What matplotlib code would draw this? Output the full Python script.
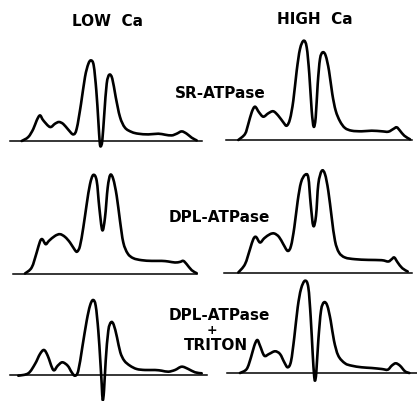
import matplotlib
matplotlib.use("Agg")
import matplotlib.pyplot as plt
import numpy as np
from matplotlib.path import Path
from matplotlib.patches import PathPatch

# Densitometer traces: position along the gel (px from trace start) and
# absorbance height above the baseline (px).
low_sr_x = [11.7, 18.3, 23.3, 26.7, 30, 33.3, 40, 45, 49, 53.3, 58.3, 63.3, 66.7, 71, 75,
            78.3, 81, 83.7, 86.3, 88.3, 89.7, 90.7, 92.3, 94.3, 96.7, 99.3, 102.3, 105.7,
            110, 115, 121.7, 128.3, 138.3, 148.3, 155, 161.7, 166.7, 171.7, 176.7, 181.7, 186.7]
low_sr_h = [0, 4, 12, 20.6, 25.6, 20.6, 14, 17.3, 19, 17, 11.3, 6.6, 12.3, 37, 64,
            77, 80.6, 75.6, 50.6, 20.6, -1, -5.4, 0.6, 27.3, 57.3, 66.3, 62.3, 44,
            24, 13.3, 9, 7.3, 6.6, 7.3, 6.3, 5.6, 7.3, 9.6, 7.3, 3.3, 0.6]

high_sr_x = [12.3, 19, 22.3, 25.7, 29, 33, 37.3, 42.3, 47.3, 52.3, 57.3, 60.7, 64, 67.3,
             70.7, 74, 77.7, 80.7, 83.3, 85.7, 87.7, 89.7, 91.7, 94, 96.7, 99.7, 103,
             106.3, 109.7, 114, 119, 125.7, 135.7, 145.7, 155.7, 162.3, 167.3, 170.7,
             174, 178.3, 184]
high_sr_h = [0, 6, 16, 27.7, 33.3, 27.7, 23.3, 26.7, 28.7, 24.3, 17.7, 14.3, 21, 39.3,
             69.3, 91, 99.3, 92.7, 66, 29.3, 13.3, 22.7, 56, 81, 87.7, 84.3, 69.3,
             46, 29.3, 18.7, 12, 9.3, 8.7, 9.3, 8.7, 8.3, 11, 12.7,
             9.3, 4.3, 0.7]

low_dpl_x = [12, 18.7, 23.7, 27, 29.3, 32.7, 36, 42, 47, 52, 57, 62, 64.3, 67, 70.3,
             73.7, 77, 80.3, 83.7, 86.3, 89.3, 92, 94.7, 97.3, 100.3, 103.7, 107,
             110.3, 114.7, 120.3, 128.7, 138.7, 148.7, 155.3, 162, 167, 170.3, 173.7,
             178.7, 183.7]
low_dpl_h = [0, 6, 21, 32, 34.3, 29.3, 32.7, 37.6, 39.3, 36.6, 31, 23.3, 22, 27.6, 46,
             69.3, 89.3, 98.6, 92.6, 66, 43.3, 56, 86, 98.6, 94.3, 77.6, 52.6,
             31, 20, 15.3, 13.3, 12.6, 12.6, 12, 11, 11.6, 12.6, 9.3,
             3.3, 0.3]

high_dpl_x = [14.3, 21, 26, 29.3, 32, 36, 40.3, 46, 50.3, 55, 59.3, 63.7, 67, 70.3, 73.7,
              77, 81, 84.3, 86.7, 89.3, 92, 94.3, 97.7, 101, 104.3, 107.7, 111, 115,
              121, 131, 144.3, 157.7, 164.3, 167.7, 170.3, 173.7, 178.3, 183.7]
high_dpl_h = [0, 8.3, 23.3, 33.3, 35.6, 30, 34.3, 38.3, 39, 35.6, 28.3, 21.6, 26.6, 45, 71.6,
              90, 97.6, 95, 68.3, 46.6, 56.6, 88.3, 101.6, 98.3, 81.6, 55, 31.6, 20,
              15, 13.3, 12.6, 12.3, 11, 13.3, 15, 10, 4.3, 1]

low_tri_x = [8.3, 18.3, 25, 30, 34, 37.7, 43.3, 47.7, 52.3, 57.7, 61.7, 65, 68.3, 72.3,
             76.7, 80, 83, 85.7, 88.3, 90.3, 91.7, 92.7, 94, 95.7, 98.3, 101, 103.7,
             107, 110.3, 114.3, 120, 126.7, 135, 145, 151.7, 158.3, 165, 171.7, 178.3,
             185, 191.7]
low_tri_h = [-0.7, 1.7, 11, 21, 25, 19.3, 5, 9.3, 12.7, 9.3, 2.7, -0.7, 4.3, 27.7,
             54.3, 69.3, 75, 69.3, 44.3, 14.3, -9, -25, -15.7, 14.3, 44.3, 52.7, 50.3,
             37.7, 22.7, 14.3, 9.3, 6, 5, 5, 4.3, 3.3, 5, 8.3, 6,
             2.7, 1.7]

high_tri_x = [13, 19.7, 24, 27.3, 30.3, 33, 37.3, 42, 48, 53, 57.3, 60.7, 64, 67.3, 70.7,
              74, 78, 81.3, 83.7, 85.7, 87, 88, 89.3, 91.3, 94, 97, 100.3, 103.7, 107,
              111.3, 118, 124.7, 134.7, 144.7, 154.7, 160.7, 164.7, 168.7, 173, 178, 182.3]
high_tri_h = [0, 4, 15.7, 27.3, 33, 27.3, 17.3, 19, 21.7, 19, 10.7, 5.7, 11.7, 35.7, 65.7,
              84, 92.3, 85.7, 55.7, 19, -1, -7.7, 0.7, 32.3, 62.3, 70.7, 67.3, 52.3, 32.3,
              17.3, 9.7, 7.3, 5.7, 5, 4, 3.3, 7.3, 9.7, 7.3, 1.7, 0]

column_titles = ["LOW  Ca", "HIGH  Ca"]
row_labels = ["SR-ATPase", "DPL-ATPase", "DPL-ATPase\n+\nTRITON"]

FIG_W, FIG_H = 417, 402
fig = plt.figure(figsize=(FIG_W / 100, FIG_H / 100), dpi=100)
fig.patch.set_facecolor("white")

BELOW, ABOVE = 30, 110  # vertical room around each baseline, in px

# (x data, heights, left edge px, baseline y px, baseline length px)
traces = [
    (low_sr_x, low_sr_h, 10, 142, 192),
    (high_sr_x, high_sr_h, 226, 141, 186),
    (low_dpl_x, low_dpl_h, 13, 274.5, 184),
    (high_dpl_x, high_dpl_h, 224, 273.5, 188),
    (low_tri_x, low_tri_h, 10, 376, 197),
    (high_tri_x, high_tri_h, 227, 374, 190),
]


def smooth_path(xs, hs):
    """Pen-like curve through the points, drawn as cubic Bezier segments."""
    p = np.column_stack([xs, hs]).astype(float)
    verts = [p[0]]
    codes = [Path.MOVETO]
    n = len(p)
    for i in range(n - 1):
        p0 = p[max(i - 1, 0)]
        p1, p2 = p[i], p[i + 1]
        p3 = p[min(i + 2, n - 1)]
        c1 = p1 + (p2 - p0) / 6.0
        c2 = p2 - (p3 - p1) / 6.0
        verts += [c1, c2, p2]
        codes += [Path.CURVE4] * 3
    return Path(np.array(verts), codes)


for xs, hs, left, base, width in traces:
    ax = fig.add_axes([left / FIG_W, (FIG_H - base - BELOW) / FIG_H,
                       width / FIG_W, (BELOW + ABOVE) / FIG_H])
    ax.set_xlim(0, width)
    ax.set_ylim(-BELOW, ABOVE)
    ax.axis("off")
    ax.patch.set_alpha(0)
    ax.axhline(0, color="black", lw=1.1, clip_on=False)
    ax.add_patch(PathPatch(smooth_path(xs, hs), facecolor="none", edgecolor="black",
                           lw=1.9, joinstyle="round", capstyle="round", clip_on=False))

font = dict(family="DejaVu Sans", fontweight="bold", fontsize=11, color="black",
            ha="center", va="center")


def put(x, y, s, **kw):
    fig.text(x / FIG_W, 1 - y / FIG_H, s, **{**font, **kw})


put(107, 22, column_titles[0])
put(315, 20, column_titles[1])
put(220, 93, row_labels[0])
put(219.5, 218, row_labels[1])
top, plus, bottom = row_labels[2].split("\n")
put(219.5, 316, top)
put(212, 331, plus, fontsize=9)
put(215.5, 346, bottom)

fig.savefig("out.png", dpi=100, facecolor="white")
